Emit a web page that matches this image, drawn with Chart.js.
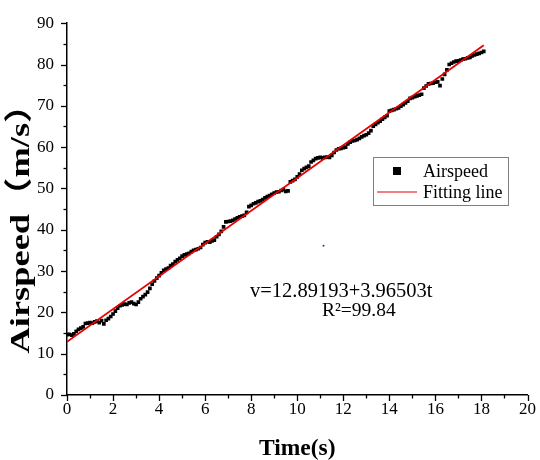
<!DOCTYPE html>
<html>
<head>
<meta charset="utf-8">
<script src="https://cdn.jsdelivr.net/npm/chart.js@4.4.1/dist/chart.umd.min.js"></script>
<style>
  html, body { margin: 0; padding: 0; background: #fff; }
  #wrap { width: 540px; height: 460px; }
</style>
</head>
<body>
<div id="wrap"><canvas id="c" width="540" height="460"></canvas></div>
<script>
// ---- data ----
const timeS = [
  0.0,0.1,0.2,0.3,0.4,0.5,0.6,0.7,0.8,0.9,
  1.0,1.1,1.2,1.3,1.4,1.5,1.6,1.7,1.8,1.9,
  2.0,2.1,2.2,2.3,2.4,2.5,2.6,2.7,2.8,2.9,
  3.0,3.1,3.2,3.3,3.4,3.5,3.6,3.7,3.8,3.9,
  4.0,4.1,4.2,4.3,4.4,4.5,4.6,4.7,4.8,4.9,
  5.0,5.1,5.2,5.3,5.4,5.5,5.6,5.7,5.8,5.9,
  6.0,6.1,6.2,6.3,6.4,6.5,6.6,6.7,6.8,6.9,
  7.0,7.1,7.2,7.3,7.4,7.5,7.6,7.7,7.8,7.9,
  8.0,8.1,8.2,8.3,8.4,8.5,8.6,8.7,8.8,8.9,
  9.0,9.1,9.2,9.3,9.4,9.5,9.6,9.7,9.8,9.9,
  10.0,10.1,10.2,10.3,10.4,10.5,10.6,10.7,10.8,10.9,
  11.0,11.1,11.2,11.3,11.4,11.5,11.6,11.7,11.8,11.9,
  12.0,12.1,12.2,12.3,12.4,12.5,12.6,12.7,12.8,12.9,
  13.0,13.1,13.2,13.3,13.4,13.5,13.6,13.7,13.8,13.9,
  14.0,14.1,14.2,14.3,14.4,14.5,14.6,14.7,14.8,14.9,
  15.0,15.1,15.2,15.3,15.4,15.5,15.6,15.7,15.8,15.9,
  16.0,16.1,16.2,16.3,16.4,16.5,16.6,16.7,16.8,16.9,
  17.0,17.1,17.2,17.3,17.4,17.5,17.6,17.7,17.8,17.9,
  18.0,18.1
];
const airspeed = [
  14.6,14.7,14.5,14.8,15.4,15.9,16.2,16.5,17.3,17.4,
  17.5,17.4,17.7,17.9,17.5,18.0,17.2,18.1,18.5,19.0,
  19.6,20.3,21.0,21.6,21.8,22.0,21.9,22.3,22.5,22.1,
  21.9,22.5,23.3,23.8,24.3,24.9,25.8,26.8,27.6,28.3,
  28.9,29.6,30.2,30.5,30.7,31.3,31.7,32.3,32.7,33.1,
  33.6,33.9,34.1,34.3,34.7,35.0,35.2,35.4,35.7,36.4,
  36.9,37.1,37.0,37.3,37.5,38.3,38.9,39.6,40.7,41.9,
  42.0,42.1,42.3,42.6,42.9,43.1,43.3,43.5,44.2,45.6,
  45.9,46.3,46.5,46.8,47.0,47.3,47.7,48.0,48.3,48.6,
  48.9,49.1,49.2,49.5,49.7,49.3,49.4,51.6,51.9,52.2,
  52.8,53.5,54.4,54.8,55.1,55.4,56.4,56.8,57.2,57.4,
  57.5,57.4,57.5,57.6,57.5,58.0,58.7,59.3,59.6,59.7,
  59.9,60.0,60.8,61.2,61.5,61.6,61.8,62.1,62.5,62.8,
  63.0,63.4,64.0,65.1,65.5,65.9,66.3,66.8,67.2,67.6,
  68.7,68.9,69.1,69.3,69.5,69.9,70.3,70.7,71.1,71.8,
  72.0,72.2,72.4,72.6,72.8,74.3,74.8,75.3,75.4,75.5,
  75.7,75.8,74.9,76.5,77.6,78.7,80.0,80.3,80.6,80.8,
  80.9,81.1,81.3,81.4,81.6,81.7,82.1,82.3,82.5,82.7,
  82.9,83.2
];
// fitted line v = a + b t, as printed on the chart
const fitCoef = [12.89193, 3.96503];
const fitTimeRange = [0, 18.1];
// stray blue dot visible in the figure
const strayT = [11.14];
const strayV = [36.1];

const xTickValues = [0,2,4,6,8,10,12,14,16,18,20];
const xMinorValues = [1,3,5,7,9,11,13,15,17,19];
const yTickValues = [0,10,20,30,40,50,60,70,80,90];
const yMinorValues = [5,15,25,35,45,55,65,75,85];

const xTitle = 'Time(s)';
const yTitle = 'Airspeed（m/s）';
const legendLabels = ['Airspeed', 'Fitting line'];
const equationLines = ['v=12.89193+3.96503t', 'R²=99.84'];

// ---- build datasets ----
const scatterPts = timeS.map((t, i) => ({ x: t, y: airspeed[i] }));
const fitPts = fitTimeRange.map(t => ({ x: t, y: fitCoef[0] + fitCoef[1] * t }));
const strayPts = strayT.map((t, i) => ({ x: t, y: strayV[i] }));

const SERIF = "'Liberation Serif', 'Noto Sans CJK SC', serif";

const tickPlugin = {
  id: 'outerTicks',
  afterDraw(chart) {
    const { ctx, scales: { x, y } } = chart;
    ctx.save();
    ctx.strokeStyle = '#000';
    ctx.lineWidth = 1.3;
    const line = (x1, y1, x2, y2) => { ctx.beginPath(); ctx.moveTo(x1, y1); ctx.lineTo(x2, y2); ctx.stroke(); };
    xTickValues.forEach(v => { const p = Math.round(x.getPixelForValue(v)) + 0.5; line(p, y.bottom, p, y.bottom + 6); });
    xMinorValues.forEach(v => { const p = Math.round(x.getPixelForValue(v)) + 0.5; line(p, y.bottom, p, y.bottom + 3.5); });
    yTickValues.forEach(v => { const p = Math.round(y.getPixelForValue(v)) + 0.5; line(x.left, p, x.left - 6, p); });
    yMinorValues.forEach(v => { const p = Math.round(y.getPixelForValue(v)) + 0.5; line(x.left, p, x.left - 3.5, p); });
    ctx.restore();
  }
};

const annotPlugin = {
  id: 'annot',
  afterDraw(chart) {
    const { ctx } = chart;
    ctx.save();
    // legend box
    ctx.strokeStyle = '#808080';
    ctx.lineWidth = 1;
    ctx.strokeRect(373.5, 157.5, 135, 48);
    ctx.fillStyle = '#000';
    ctx.fillRect(393, 167, 8, 8);
    ctx.strokeStyle = '#e60000';
    ctx.lineWidth = 1.2;
    ctx.beginPath(); ctx.moveTo(377, 192); ctx.lineTo(417, 192); ctx.stroke();
    ctx.fillStyle = '#000';
    ctx.font = '18px ' + SERIF;
    ctx.textBaseline = 'middle';
    ctx.textAlign = 'left';
    ctx.fillText(legendLabels[0], 423, 172);
    ctx.fillText(legendLabels[1], 423, 193);
    // equation
    ctx.font = '20.5px ' + SERIF;
    ctx.fillText(equationLines[0], 250, 292);
    ctx.font = '19.5px ' + SERIF;
    ctx.fillText(equationLines[1], 322, 311);
    // y-axis title (tall, condensed look of the original)
    ctx.save();
    ctx.translate(22, 220);
    ctx.rotate(-Math.PI / 2);
    ctx.scale(1.3, 1);
    ctx.font = 'bold 28px ' + SERIF;
    ctx.textAlign = 'center';
    ctx.fillText(yTitle, 0, 0);
    ctx.restore();
    ctx.restore();
  }
};

new Chart(document.getElementById('c'), {
  type: 'scatter',
  data: {
    datasets: [
      {
        label: legendLabels[1], type: 'line', data: fitPts,
        borderColor: '#e60000', borderWidth: 1.8, pointRadius: 0, fill: false, order: 0
      },
      {
        label: legendLabels[0], data: scatterPts,
        backgroundColor: '#000', borderColor: '#000', borderWidth: 0,
        pointStyle: 'rect', pointRadius: 2.6, order: 1
      },
      {
        label: '', data: strayPts,
        backgroundColor: '#2233cc', borderColor: '#2233cc', borderWidth: 0,
        pointRadius: 1, order: 2
      }
    ]
  },
  options: {
    responsive: false,
    animation: false,
    layout: { padding: { top: 16, right: 8, left: 0, bottom: 0 } },
    plugins: { legend: { display: false }, tooltip: { enabled: false } },
    scales: {
      x: {
        type: 'linear', min: 0, max: 20,
        afterBuildTicks: s => { s.ticks = xTickValues.map(v => ({ value: v })); },
        ticks: { color: '#000', font: { family: SERIF, size: 17 }, padding: 4, maxRotation: 0, autoSkip: false },
        grid: { display: false, drawTicks: false },
        border: { display: true, color: '#000', width: 1.5 },
        title: { display: true, text: xTitle, color: '#000', font: { family: SERIF, size: 23.5, weight: 'bold' }, padding: { top: 0, bottom: -3 } },
        afterFit: s => { s.height = 65; }
      },
      y: {
        type: 'linear', min: 0, max: 90,
        afterBuildTicks: s => { s.ticks = yTickValues.map(v => ({ value: v })); },
        ticks: { color: '#000', font: { family: SERIF, size: 17 }, padding: 13, autoSkip: false },
        grid: { display: false, drawTicks: false },
        border: { display: true, color: '#000', width: 1.5 },
        title: { display: false, text: yTitle },
        afterFit: s => { s.width = 67; }
      }
    }
  },
  plugins: [tickPlugin, annotPlugin]
});
</script>
</body>
</html>
